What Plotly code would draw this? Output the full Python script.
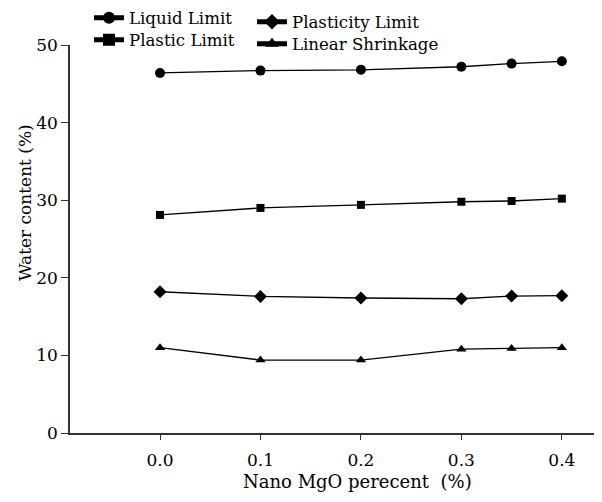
import plotly.graph_objects as go

x_vals = [0.0, 0.1, 0.2, 0.3, 0.35, 0.4]
liquid_limit = [46.4, 46.7, 46.8, 47.2, 47.6, 47.9]
plastic_limit = [28.1, 29.0, 29.4, 29.8, 29.9, 30.2]
plasticity_limit = [18.2, 17.6, 17.4, 17.3, 17.65, 17.7]
linear_shrinkage = [11.0, 9.4, 9.4, 10.8, 10.9, 11.0]

x_ticks = [0.0, 0.1, 0.2, 0.3, 0.4]
x_ticktext = ["0.0", "0.1", "0.2", "0.3", "0.4"]
y_ticks = [0, 10, 20, 30, 40, 50]
x_title = "Nano MgO perecent  (%)"
y_title = "Water content (%)"

FONT = "DejaVu Serif"
W, H = 602, 502
OFF = 8  # page body margin offset
L, R, T, B = 70 - OFF, 2 + OFF, 45 - OFF, 69 + OFF
PW, PH = W - L - R, H - T - B


def px_x(page_x):
    return (page_x - OFF - L) / PW


def px_y(page_y):
    return (H - B - (page_y - OFF)) / PH


fig = go.Figure()
# name, values, symbol, size, legend id, legend left px, legend centre y px (page coords)
series = [
    ("Liquid Limit", liquid_limit, "circle", 10, "legend", 89, 18),
    ("Plastic Limit", plastic_limit, "square", 8, "legend2", 89, 40),
    ("Plasticity Limit", plasticity_limit, "diamond", 10, "legend3", 252, 22),
    ("Linear Shrinkage", linear_shrinkage, "triangle-up", 9, "legend4", 252, 44),
]
legends = {}
for name, ys, sym, sz, lg, lx, ly in series:
    fig.add_trace(go.Scatter(
        x=x_vals, y=ys, name=name, mode="lines+markers",
        line=dict(color="black", width=1.3),
        marker=dict(symbol=sym, size=sz, color="black"),
        legend=lg, showlegend=True,
    ))
    legends[lg] = dict(x=px_x(lx), y=px_y(ly),
                       xanchor="left", yanchor="middle", bgcolor="rgba(0,0,0,0)",
                       font=dict(family=FONT, size=16.6, color="black"),
                       itemsizing="constant", borderwidth=0, visible=True)

fig.update_layout(
    width=W, height=H, showlegend=True,
    margin=dict(l=L, r=R, t=T, b=B, autoexpand=False),
    paper_bgcolor="white", plot_bgcolor="white",
    font=dict(family=FONT, size=16, color="black"),
    **legends,
    xaxis=dict(range=[-0.0896, 0.438], tickvals=x_ticks, ticktext=x_ticktext,
               showgrid=False, zeroline=False, showline=True, linecolor="#333",
               linewidth=1.5, ticks="outside", ticklen=5, tickcolor="#333",
               tickfont=dict(family=FONT, size=17), ticklabelstandoff=6),
    yaxis=dict(range=[0, 50], tickvals=y_ticks, showgrid=False, zeroline=False,
               showline=True, linecolor="#333", linewidth=1.5, ticks="outside",
               ticklen=7, tickcolor="#333",
               tickfont=dict(family=FONT, size=17)),
    annotations=[
        dict(text=x_title, xref="paper", yref="paper", x=px_x(357), y=px_y(481),
             xanchor="center", yanchor="middle", showarrow=False,
             font=dict(family=FONT, size=18, color="black")),
        dict(text=y_title, xref="paper", yref="paper", x=px_x(25), y=px_y(203),
             xanchor="center", yanchor="middle", showarrow=False, textangle=-90,
             font=dict(family=FONT, size=17, color="black")),
    ],
)

fig.write_html("out.html")
